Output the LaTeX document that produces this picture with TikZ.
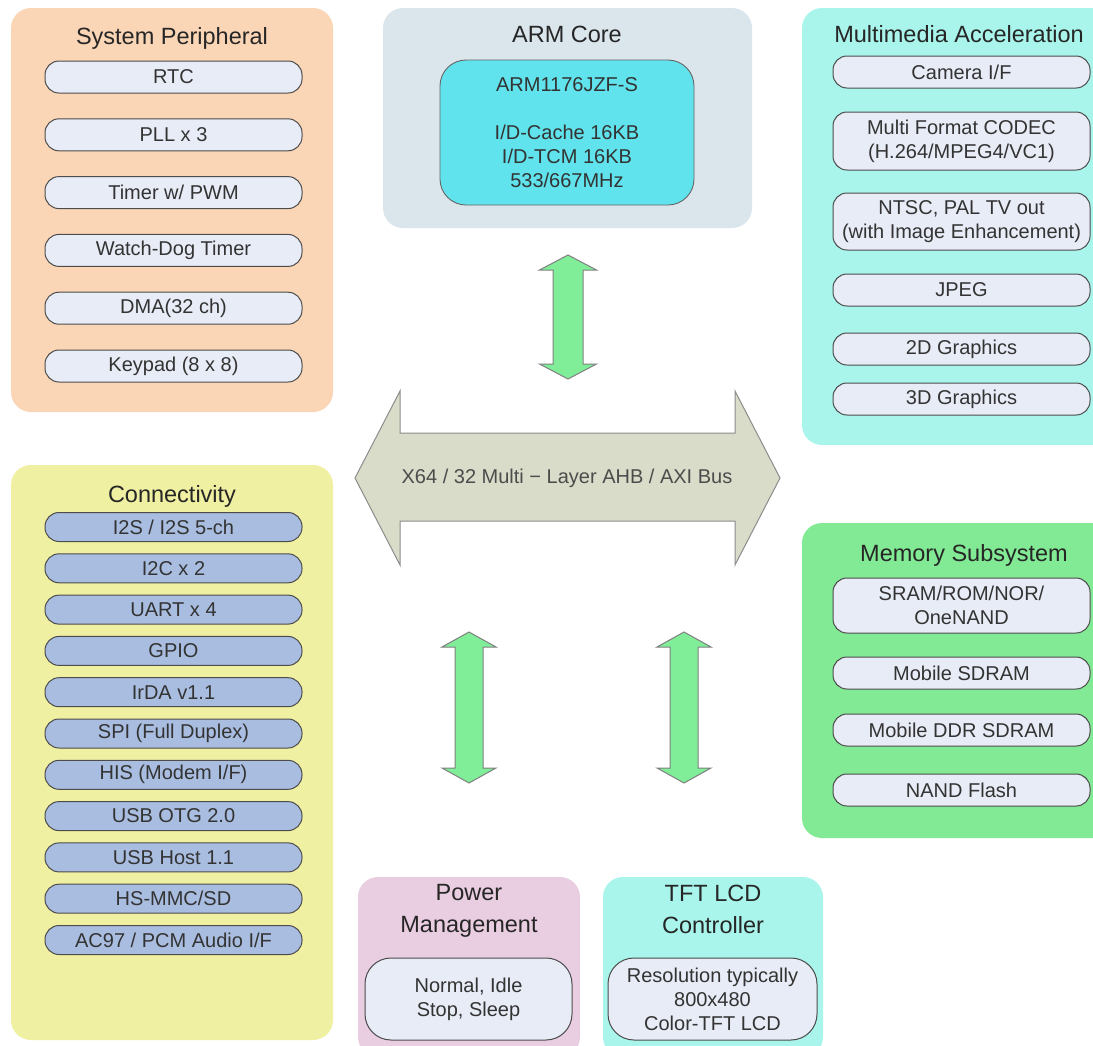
\documentclass[tikz,border=0pt]{standalone}
\usepackage{fontspec}
\setmainfont{Liberation Sans}
\definecolor{spfill}{HTML}{FBD6B6}
\definecolor{armfill}{HTML}{DAE5EC}
\definecolor{arminner}{HTML}{60E3EC}
\definecolor{mmfill}{HTML}{A9F5EC}
\definecolor{busfill}{HTML}{D9DCC8}
\definecolor{grnfill}{HTML}{80EE99}
\definecolor{connfill}{HTML}{F0F0A2}
\definecolor{connitem}{HTML}{A9BDE0}
\definecolor{memfill}{HTML}{82E994}
\definecolor{pwrfill}{HTML}{E9CDE1}
\definecolor{itemfill}{HTML}{E8ECF6}
\definecolor{txt}{HTML}{333333}
\newcommand\greenvarrow[5]{%
  \draw[garrow] (#1-#4,#2+15) -- (#1-#5,#2+15) -- (#1,#2) -- (#1+#5,#2+15) -- (#1+#4,#2+15)
   -- (#1+#4,#3-15) -- (#1+#5,#3-15) -- (#1,#3) -- (#1-#5,#3-15) -- (#1-#4,#3-15) -- cycle;}
\begin{document}
\begin{tikzpicture}[x=1pt,y=-1pt,
  panel/.style={rounded corners=20pt, inner sep=0, draw=none},
  ptitle/.style={font=\fontsize{23.5}{32}\selectfont, text=black!85, align=center, inner sep=0},
  pill/.style={draw=black!70, line width=1pt, rounded corners=14pt, minimum width=257, minimum height=32,
     font=\fontsize{20}{24}\selectfont, text=txt, align=center, inner sep=0, fill=itemfill},
  cpill/.style={pill, fill=connitem, minimum height=29},
  garrow/.style={fill=grnfill, draw=black!50, line width=1pt, line join=miter},
  bus/.style={fill=busfill, draw=black!45, line width=1pt}
]
\useasboundingbox (0,0) rectangle (1093,1045);
\clip (0,0) rectangle (1093,1045);
\fill[white] (0,0) rectangle (1093,1045);

% ---------------- System Peripheral
\node[panel, fill=spfill, minimum width=322, minimum height=404] (sp) at (172,210) {};
\node[ptitle] (spt) at (172,38) {System Peripheral};
\node[pill] (sp1) at (173.5,77) {RTC};
\node[pill] (sp2) at (173.5,134.8) {PLL x 3};
\node[pill] (sp3) at (173.5,192.6) {Timer w/ PWM};
\node[pill] (sp4) at (173.5,250.4) {Watch-Dog Timer};
\node[pill] (sp5) at (173.5,308.2) {DMA(32 ch)};
\node[pill] (sp6) at (173.5,366) {Keypad (8 x 8)};

% ---------------- ARM Core
\node[panel, fill=armfill, minimum width=369, minimum height=220] (arm) at (567.5,118) {};
\node[ptitle] (armt) at (567,34) {ARM Core};
\node[draw=black!60, line width=0.9pt, fill=arminner, rounded corners=26pt, minimum width=254, minimum height=145,
      inner sep=0, align=center, text=txt, font=\fontsize{20}{24}\selectfont] (armin) at (567,132.5)
  {ARM1176JZF-S\\[24pt]I/D-Cache 16KB\\I/D-TCM 16KB\\533/667MHz};

% ---------------- Multimedia Acceleration
\node[panel, fill=mmfill, minimum width=313, minimum height=437] (mm) at (958.5,226.5) {};
\node[ptitle] (mmt) at (959,34) {Multimedia Acceleration};
\node[pill] (mm1) at (961.5,72) {Camera I/F};
\node[pill, minimum height=58] (mm2) at (961.5,141) {Multi Format CODEC\\(H.264/MPEG4/VC1)};
\node[pill, minimum height=57] (mm3) at (961.5,221.5) {NTSC, PAL TV out\\(with Image Enhancement)};
\node[pill] (mm4) at (961.5,290) {JPEG};
\node[pill] (mm5) at (961.5,349) {2D Graphics};
\node[pill] (mm6) at (961.5,399) {3D Graphics};

% ---------------- Connectivity
\node[panel, fill=connfill, minimum width=322, minimum height=575] (conn) at (172,752.5) {};
\node[ptitle] (connt) at (172,496) {Connectivity};
\node[cpill] (c1) at (173.5,527) {I2S / I2S 5-ch};
\node[cpill] (c2) at (173.5,568.3) {I2C x 2};
\node[cpill] (c3) at (173.5,609.6) {UART x 4};
\node[cpill] (c4) at (173.5,650.9) {GPIO};
\node[cpill] (c5) at (173.5,692.2) {IrDA v1.1};
\node[cpill] (c6) at (173.5,733.5) {SPI (Full Duplex)};
\node[cpill] (c7) at (173.5,774.8) {HIS (Modem I/F)};
\node[cpill] (c8) at (173.5,816.1) {USB OTG 2.0};
\node[cpill] (c9) at (173.5,857.4) {USB Host 1.1};
\node[cpill] (c10) at (173.5,898.7) {HS-MMC/SD};
\node[cpill] (c11) at (173.5,940) {AC97 / PCM Audio I/F};

% ---------------- Memory Subsystem
\node[panel, fill=memfill, minimum width=313, minimum height=315] (mem) at (958.5,680.5) {};
\node[ptitle] (memt) at (964,555) {Memory Subsystem};
\node[pill, minimum height=55] (m1) at (961.5,605.5) {SRAM/ROM/NOR/\\OneNAND};
\node[pill] (m2) at (961.5,673) {Mobile SDRAM};
\node[pill] (m3) at (961.5,730) {Mobile DDR SDRAM};
\node[pill] (m4) at (961.5,790) {NAND Flash};

% ---------------- Power Management
\node[panel, fill=pwrfill, minimum width=222, minimum height=180] (pwr) at (469,967) {};
\node[ptitle, anchor=north] (pwrt) at (469,884.5) {Power\\Management};
\node[pill, minimum width=207, minimum height=82, rounded corners=26pt] (pw1) at (468.5,999) {Normal, Idle\\Stop, Sleep};

% ---------------- TFT LCD Controller
\node[panel, fill=mmfill, minimum width=220, minimum height=180] (tft) at (713,967) {};
\node[ptitle, anchor=north] (tftt) at (713,884.5) {TFT LCD\\Controller};
\node[pill, minimum width=209, minimum height=82, rounded corners=26pt] (tf1) at (712.5,999) {Resolution typically\\800x480\\Color-TFT LCD};

% ---------------- Bus
\draw[bus] (355,478) -- (400,391) -- (400,433) -- (735,433) -- (735,391) -- (780,478)
  -- (735,565) -- (735,521) -- (400,521) -- (400,565) -- cycle;
\node[font=\fontsize{20}{24}\selectfont, text=black!70, inner sep=0] (bus) at (567,478)
  {X64 / 32 Multi {\char"2212} Layer AHB / AXI Bus};

% ---------------- green connectors
\greenvarrow{568}{255}{379}{15}{28.5}
\greenvarrow{469}{632}{783}{14}{27}
\greenvarrow{684}{632}{783}{14}{27}
\end{tikzpicture}
\end{document}
